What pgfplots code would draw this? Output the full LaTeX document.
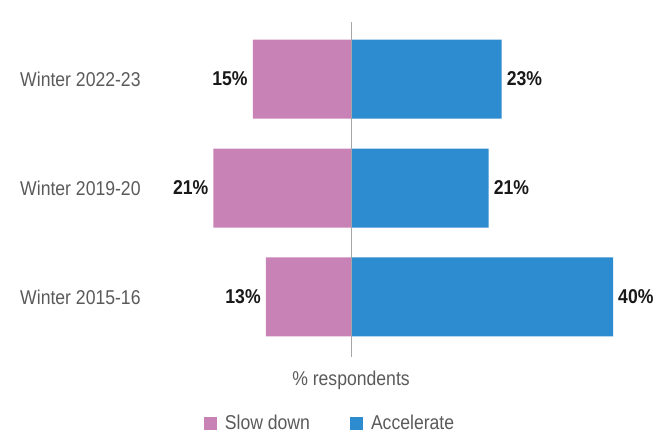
\documentclass[border=0pt]{standalone}
\usepackage{fontspec}
\setmainfont[FakeStretch=0.88]{Liberation Sans}
\usepackage{pgfplots}
\pgfplotsset{compat=1.18}
\definecolor{slowc}{HTML}{C882B5}
\definecolor{accc}{HTML}{2D8BCF}
\definecolor{txtgray}{HTML}{5A5A5A}
\newcommand{\cf}{\fontsize{20bp}{24bp}\selectfont}
\begin{document}
\begin{tikzpicture}
\path[use as bounding box] (0,0) rectangle (667bp,434bp);
\begin{axis}[
  at={(0,0)}, anchor=south west,
  scale only axis, width=667bp, height=434bp,
  xmin=-53.59, xmax=48.24, ymin=-1.257, ymax=2.725,
  hide axis, clip=false,
  /pgf/number format/assume math mode=true,
  xbar, bar width=79bp, bar shift=0pt,
  point meta=explicit,
  nodes near coords={\pgfmathprintnumber{\pgfplotspointmeta}\%},
  every node near coord/.append style={font=\cf\bfseries, text=black!90, inner sep=0pt},
  legend columns=2,
  legend style={at={(rel axis cs:0.4948,0.025)}, anchor=center, draw=none, fill=none,
    font=\cf, text=txtgray, inner sep=0pt,
    /tikz/every even column/.append style={column sep=38bp}},
  legend image code/.code={\fill[#1,draw=none] (0bp,-6.5bp) rectangle (13bp,6.5bp);},
]
\addplot[fill=slowc, draw=none, every node near coord/.append style={anchor=east, xshift=-5bp}]
  coordinates {(-15,2) [15] (-21,1) [21] (-13,0) [13]};
\addlegendentry{\hspace{6bp}Slow down}
\addplot[fill=accc, draw=none, every node near coord/.append style={anchor=west, xshift=5bp}]
  coordinates {(23,2) [23] (21,1) [21] (40,0) [40]};
\addlegendentry{\hspace{6bp}Accelerate}
\draw[black!35, line width=1bp] (axis cs:0,2.523) -- (axis cs:0,-0.55);
\node[anchor=west, text=txtgray, font=\cf, inner sep=0pt] at (axis cs:-50.53,2) {Winter 2022-23};
\node[anchor=west, text=txtgray, font=\cf, inner sep=0pt] at (axis cs:-50.53,1) {Winter 2019-20};
\node[anchor=west, text=txtgray, font=\cf, inner sep=0pt] at (axis cs:-50.53,0) {Winter 2015-16};
\node[text=txtgray, font=\cf, inner sep=0pt] at (axis cs:0,-0.761) {\% respondents};
\end{axis}
\end{tikzpicture}
\end{document}
